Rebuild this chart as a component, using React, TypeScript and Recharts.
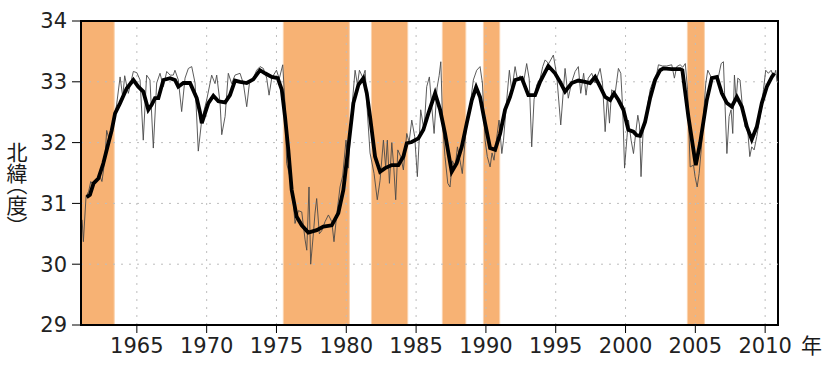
import { Line, LineChart, ReferenceArea, ReferenceLine, XAxis, YAxis } from 'recharts'

const yearTicks = [1965, 1970, 1975, 1980, 1985, 1990, 1995, 2000, 2005, 2010]
const latTicks = [29, 30, 31, 32, 33, 34]

// shaded periods (start / end, decimal years)
const bandStarts = [1961, 1975.49, 1981.8, 1986.88, 1989.82, 2004.43]
const bandEnds = [1963.38, 1980.22, 1984.4, 1988.56, 1990.99, 2005.65]

// monthly-ish series (thin line)
const thinYears = [
	1961.08, 1961.17, 1961.36, 1961.55, 1961.7, 1961.9, 1962.1, 1962.36, 1962.5, 1962.7, 1962.84, 1963.03,
	1963.31, 1963.55, 1963.8, 1963.99, 1964.13, 1964.39, 1964.75, 1965.0, 1965.23, 1965.46, 1965.7, 1965.94,
	1966.18, 1966.42, 1966.66, 1966.9, 1967.14, 1967.38, 1967.61, 1967.73, 1967.97, 1968.21, 1968.45, 1968.69,
	1968.93, 1969.17, 1969.4, 1969.65, 1970.0, 1970.36, 1970.6, 1970.72, 1970.96, 1971.08, 1971.32, 1971.55,
	1971.79, 1972.03, 1972.39, 1972.63, 1972.87, 1973.06, 1973.34, 1973.58, 1973.82, 1974.06, 1974.3, 1974.47,
	1974.66, 1975.0, 1975.2, 1975.45, 1975.61, 1975.73, 1975.97, 1976.21, 1976.33, 1976.57, 1976.81, 1977.05,
	1977.17, 1977.33, 1977.45, 1977.65, 1977.76, 1977.88, 1978.07, 1978.24, 1978.48, 1978.72, 1978.96, 1979.12,
	1979.3, 1979.55, 1979.74, 1979.98, 1980.15, 1980.39, 1980.63, 1980.8, 1980.94, 1981.18, 1981.35, 1981.5,
	1981.7, 1981.99, 1982.22, 1982.42, 1982.66, 1982.82, 1982.94, 1983.09, 1983.26, 1983.4, 1983.54, 1983.69,
	1983.9, 1984.09, 1984.33, 1984.5, 1984.69, 1984.9, 1985.09, 1985.33, 1985.57, 1985.76, 1985.95, 1986.12,
	1986.29, 1986.5, 1986.65, 1986.77, 1986.91, 1987.07, 1987.27, 1987.43, 1987.6, 1987.8, 1987.96, 1988.15,
	1988.31, 1988.5, 1988.67, 1988.86, 1989.1, 1989.34, 1989.58, 1989.75, 1989.94, 1990.1, 1990.3, 1990.44,
	1990.58, 1990.75, 1990.94, 1991.14, 1991.26, 1991.49, 1991.68, 1991.85, 1992.09, 1992.25, 1992.45, 1992.69,
	1992.92, 1993.1, 1993.28, 1993.45, 1993.64, 1993.88, 1994.07, 1994.24, 1994.5, 1994.83, 1995.07, 1995.36,
	1995.67, 1995.9, 1996.15, 1996.39, 1996.62, 1996.79, 1997.0, 1997.17, 1997.33, 1997.58, 1997.82, 1998.18,
	1998.35, 1998.54, 1998.7, 1998.85, 1999.01, 1999.25, 1999.49, 1999.66, 1999.8, 1999.93, 2000.1, 2000.21,
	2000.4, 2000.57, 2000.75, 2000.88, 2001.0, 2001.11, 2001.28, 2001.47, 2001.76, 2002.0, 2002.24, 2002.36,
	2002.65, 2002.95, 2003.31, 2003.5, 2003.67, 2003.91, 2004.1, 2004.28, 2004.44, 2004.63, 2004.87, 2004.98,
	2005.13, 2005.27, 2005.42, 2005.58, 2005.75, 2005.89, 2006.13, 2006.4, 2006.65, 2006.85, 2007.01, 2007.13,
	2007.26, 2007.42, 2007.56, 2007.68, 2007.8, 2007.92, 2008.04, 2008.2, 2008.37, 2008.56, 2008.75, 2008.9,
	2009.04, 2009.21, 2009.4, 2009.64, 2009.88, 2010.04, 2010.23, 2010.43, 2010.6, 2010.76, 2010.85,
]
const thinValues = [
	30.73, 30.37, 31.11, 31.2, 31.36, 31.3, 31.4, 31.44, 31.36, 31.7, 32.2, 32.04,
	32.34, 32.62, 33.08, 32.75, 33.1, 32.81, 33.17, 33.15, 33.03, 32.04, 33.11, 33.03,
	31.91, 32.98, 33.14, 32.92, 33.17, 33.11, 33.11, 33.19, 33.03, 32.51, 33.06, 33.22,
	33.25, 32.98, 31.86, 32.38, 32.7, 33.11, 32.97, 33.11, 32.65, 32.13, 32.43, 33.14,
	32.97, 33.11, 33.14, 32.97, 32.59, 32.97, 33.06, 33.19, 33.25, 33.22, 33.06, 32.78,
	33.06, 33.19, 33.05, 33.28, 32.63, 31.66, 31.43, 31.0, 30.67, 30.88, 30.86, 30.4,
	30.23, 31.27, 30.0, 30.52, 30.84, 31.08, 30.5, 30.55, 30.7, 30.81, 30.7, 30.37,
	30.78, 31.27, 31.45, 32.04, 31.58, 32.54, 33.19, 32.95, 33.19, 33.07, 33.19, 32.54,
	31.83, 31.49, 31.06, 31.38, 32.04, 31.59, 32.04, 31.33, 32.0, 31.6, 31.06, 31.88,
	31.77, 31.55, 32.15, 32.01, 32.37, 32.1, 31.44, 32.54, 32.2, 32.92, 33.08, 32.6,
	32.15, 32.9, 33.1, 33.33, 32.26, 31.77, 31.33, 31.27, 31.7, 31.6, 31.93, 31.7,
	31.49, 32.0, 32.43, 32.59, 33.03, 33.19, 33.25, 32.98, 32.04, 31.77, 31.6, 31.83,
	31.71, 32.04, 32.37, 31.82, 32.04, 32.7, 33.19, 32.85, 33.25, 33.05, 33.1, 32.98,
	33.3, 33.05, 31.93, 32.71, 32.95, 33.05, 33.25, 33.36, 33.3, 33.44, 33.11, 32.29,
	33.22, 32.73, 33.0, 33.17, 33.25, 32.81, 33.14, 32.78, 33.06, 33.14, 32.98, 33.22,
	32.98, 32.18, 32.75, 32.32, 32.87, 32.8, 33.22, 33.14, 32.54, 31.58, 32.08, 32.37,
	32.04, 31.82, 32.2, 32.45, 32.29, 31.44, 32.29, 32.45, 32.87, 33.03, 33.14, 33.28,
	33.26, 33.26, 33.28, 33.06, 33.25, 33.28, 33.24, 33.3, 32.87, 31.6, 31.63, 31.44,
	31.27, 31.49, 31.88, 32.43, 32.98, 33.19, 33.08, 33.08, 33.08, 33.3, 33.33, 32.59,
	31.82, 32.43, 32.54, 32.15, 33.11, 32.7, 33.06, 33.03, 32.59, 32.26, 32.21, 31.77,
	31.93, 31.88, 32.1, 32.43, 32.87, 33.19, 33.14, 33.19, 33.08, 33.19, 33.0,
]

// smoothed series (thick line)
const thickYears = [
	1961.4, 1961.64, 1961.9, 1962.24, 1962.6, 1962.96, 1963.2, 1963.44, 1963.8, 1964.27, 1964.75, 1965.1,
	1965.46, 1965.82, 1966.06, 1966.3, 1966.54, 1966.9, 1967.38, 1967.73, 1967.97, 1968.33, 1968.81, 1969.29,
	1969.52, 1969.65, 1970.12, 1970.48, 1970.84, 1971.32, 1971.67, 1972.03, 1972.39, 1972.87, 1973.34, 1973.82,
	1974.18, 1974.66, 1975.09, 1975.38, 1975.61, 1975.85, 1976.09, 1976.45, 1976.81, 1977.28, 1977.88, 1978.36,
	1978.96, 1979.43, 1979.79, 1980.15, 1980.51, 1980.87, 1981.22, 1981.47, 1981.7, 1982.06, 1982.42, 1982.78,
	1983.26, 1983.73, 1984.09, 1984.33, 1984.69, 1985.16, 1985.52, 1985.88, 1986.36, 1986.72, 1987.07, 1987.55,
	1987.91, 1988.27, 1988.63, 1988.99, 1989.3, 1989.58, 1989.94, 1990.3, 1990.66, 1991.02, 1991.37, 1991.73,
	1992.09, 1992.57, 1993.04, 1993.52, 1993.88, 1994.47, 1994.95, 1995.31, 1995.67, 1996.15, 1996.62, 1997.1,
	1997.46, 1997.82, 1998.18, 1998.54, 1998.9, 1999.18, 1999.49, 1999.85, 2000.2, 2000.56, 2000.8, 2001.04,
	2001.4, 2001.76, 2002.12, 2002.48, 2002.71, 2003.31, 2003.91, 2004.07, 2004.5, 2005.03, 2005.34, 2005.82,
	2006.18, 2006.54, 2006.9, 2007.26, 2007.61, 2007.97, 2008.33, 2008.69, 2009.04, 2009.4, 2009.76, 2010.12,
	2010.48, 2010.66,
]
const thickValues = [
	31.1, 31.14, 31.33, 31.41, 31.66, 31.99, 32.2, 32.48, 32.65, 32.89, 33.03, 32.92,
	32.84, 32.54, 32.62, 32.73, 32.73, 33.03, 33.06, 33.03, 32.92, 32.98, 32.98, 32.73,
	32.5, 32.32, 32.65, 32.77, 32.68, 32.66, 32.78, 33.02, 33.0, 32.98, 33.04, 33.19,
	33.14, 33.08, 33.06, 32.87, 32.43, 31.88, 31.22, 30.78, 30.64, 30.52, 30.56, 30.62,
	30.64, 30.84, 31.22, 31.93, 32.65, 32.95, 33.06, 32.81, 32.43, 31.77, 31.52, 31.58,
	31.63, 31.63, 31.77, 31.99, 32.01, 32.07, 32.21, 32.48, 32.81, 32.54, 32.15, 31.52,
	31.66, 31.93, 32.32, 32.7, 32.91, 32.75, 32.32, 31.91, 31.88, 32.15, 32.54, 32.75,
	33.03, 33.06, 32.78, 32.78, 33.0, 33.26, 33.14, 33.0, 32.84, 32.98, 33.02, 33.0,
	32.98, 33.08, 32.92, 32.75, 32.7, 32.81, 32.7, 32.54, 32.21, 32.18, 32.12, 32.11,
	32.34, 32.73, 33.03, 33.19, 33.22, 33.21, 33.21, 33.19, 32.43, 31.63, 31.99, 32.7,
	33.06, 33.08, 32.81, 32.65, 32.59, 32.75, 32.59, 32.26, 32.05, 32.26, 32.65, 32.92,
	33.08, 33.14,
]

const thinData = thinYears.map((t, i) => ({ t, v: thinValues[i] }))
const thickData = thickYears.map((t, i) => ({ t, v: thickValues[i] }))

const X0 = 1961
const X1 = 2010.92
const tickFont = { fontSize: 21, fontFamily: '"DejaVu Sans", sans-serif', fill: '#222' }
const cjk = '"Noto Sans CJK JP", sans-serif'

export default function App() {
	return (
		<div style={{ position: 'absolute', left: 0, top: 0, width: 830, height: 370, background: '#fff' }}>
			<LineChart width={830} height={370} margin={{ top: 21, right: 52, bottom: 0, left: 0 }}>
				<XAxis
					type="number"
					dataKey="t"
					domain={[X0, X1]}
					ticks={yearTicks}
					allowDataOverflow
					height={45}
					tickSize={8}
					tickMargin={5}
					tick={tickFont}
					axisLine={{ stroke: '#000', strokeWidth: 2 }}
					tickLine={{ stroke: '#000', strokeWidth: 1 }}
				/>
				<YAxis
					type="number"
					domain={[29, 34]}
					ticks={latTicks}
					allowDataOverflow
					width={81}
					tickSize={9}
					tickMargin={5}
					tick={tickFont}
					axisLine={{ stroke: '#000', strokeWidth: 2 }}
					tickLine={{ stroke: '#000', strokeWidth: 1 }}
				/>
				{bandStarts.map((s, i) => (
					<ReferenceArea
						key={`band-${i}`}
						x1={s}
						x2={bandEnds[i]}
						y1={29}
						y2={34}
						fill="#F7B274"
						fillOpacity={1}
						stroke="#FAD3AE"
						strokeWidth={1}
					/>
				))}
				{yearTicks.map((y) => (
					<ReferenceLine key={`gx-${y}`} x={y} stroke="#bdbdbd" strokeDasharray="2 6" />
				))}
				{[30, 31, 32, 33].map((v) => (
					<ReferenceLine key={`gy-${v}`} y={v} stroke="#bdbdbd" strokeDasharray="2 6" />
				))}
				<Line
					data={thinData}
					dataKey="v"
					type="linear"
					stroke="#4a4a4a"
					strokeWidth={0.9}
					dot={false}
					activeDot={false}
					isAnimationActive={false}
				/>
				<Line
					data={thickData}
					dataKey="v"
					type="linear"
					stroke="#000"
					strokeWidth={3.8}
					dot={false}
					activeDot={false}
					isAnimationActive={false}
				/>
				<ReferenceArea x1={X0} x2={X1} y1={29} y2={34} fill="none" fillOpacity={0} stroke="#000" strokeWidth={2} />
			</LineChart>
			{/* vertical axis title */}
			<div
				style={{
					position: 'absolute',
					left: 6,
					top: 142,
					writingMode: 'vertical-rl',
					fontFamily: cjk,
					fontSize: 21,
					lineHeight: '21px',
					fontFeatureSettings: '"vhal" 1',
					color: '#1a1a1a',
				}}
			>
				北緯（度）
			</div>
			<span
				style={{
					position: 'absolute',
					left: 801,
					top: 334,
					fontFamily: cjk,
					fontSize: 21,
					lineHeight: '21px',
					color: '#1a1a1a',
				}}
			>
				年
			</span>
		</div>
	)
}
